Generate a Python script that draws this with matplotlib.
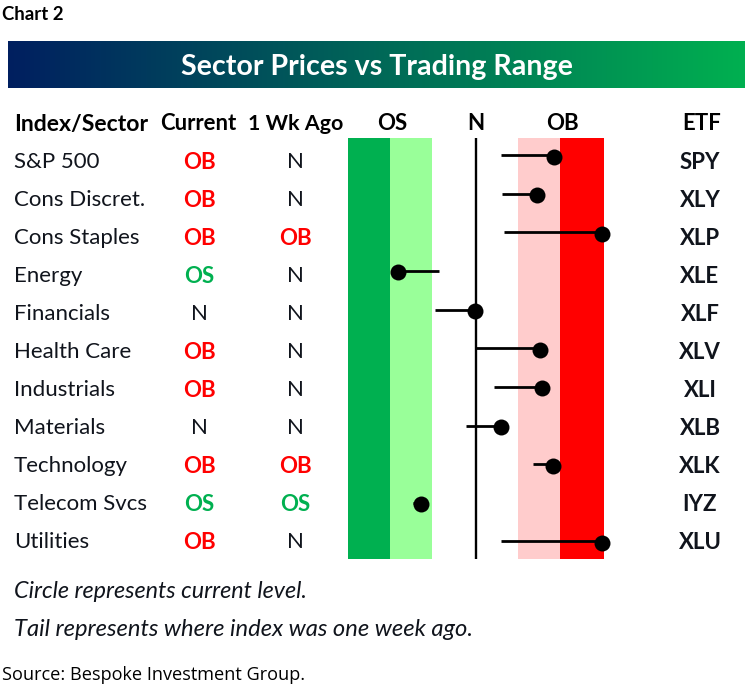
import numpy as np
import matplotlib
matplotlib.use("Agg")
import matplotlib.pyplot as plt
from matplotlib.colors import LinearSegmentedColormap

sectors = ["S&P 500", "Cons Discret.", "Cons Staples", "Energy", "Financials", "Health Care",
           "Industrials", "Materials", "Technology", "Telecom Svcs", "Utilities"]
current_status = ["OB", "OB", "OB", "OS", "N", "OB", "OB", "N", "OB", "OS", "OB"]
week_ago_status = ["N", "N", "OB", "N", "N", "N", "N", "N", "OB", "OS", "N"]
etfs = ["SPY", "XLY", "XLP", "XLE", "XLF", "XLV", "XLI", "XLB", "XLK", "IYZ", "XLU"]
current_level = [1.83, 1.43, 2.95, -1.83, -0.02, 1.50, 1.54, 0.59, 1.80, -1.29, 2.95]
week_ago_level = [0.59, 0.61, 0.66, -0.87, -0.96, 0.00, 0.42, -0.23, 1.34, -1.48, 0.59]
band_edges = [-3, -2.01, -1.03, 0.98, 1.96, 3]
band_colors = ["#00B050", "#99FF99", "#FFFFFF", "#FFCCCC", "#FF0000"]
status_colors = {"OB": "#FF0000", "OS": "#00B050", "N": "#10141C"}

W, H = 750, 688
FONT = "Lato"
INK = "#10141C"
fig = plt.figure(figsize=(W / 100, H / 100), dpi=100, facecolor="white")

page = fig.add_axes([0, 0, 1, 1])
page.set_xlim(0, W)
page.set_ylim(H, 0)
page.axis("off")

cmap = LinearSegmentedColormap.from_list("banner", ["#001F60", "#00B050"])
page.imshow(np.linspace(0, 1, 256)[None, :], cmap=cmap, extent=(8, 745, 88, 41), aspect="auto", zorder=1)
page.set_xlim(0, W)
page.set_ylim(H, 0)
page.text(377, 67, "Sector Prices vs Trading Range", color="white", fontsize=20.6, fontweight="bold",
          family=FONT, ha="center", va="center", zorder=2)

page.text(2, 14, "Chart 2", fontsize=13.4, fontweight="bold", family=FONT, color="black", va="center")
page.text(2, 675, "Source: Bespoke Investment Group.", fontsize=13.1, family="Open Sans", color="black", va="center")
page.text(14, 591, "Circle represents current level.", fontsize=16.8, style="italic", family=FONT, color=INK, va="center")
page.text(14, 629, "Tail represents where index was one week ago.", fontsize=17.1, style="italic", family=FONT, color=INK, va="center")

header_y = 124
for x, label, ha, size in [(14, "Index/Sector", "left", 16.6), (198, "Current", "center", 15.9),
                           (296, "1 Wk Ago", "center", 15.4), (392, "OS", "center", 16),
                           (476, "N", "center", 16), (562, "OB", "center", 16), (702, "ETF", "center", 16)]:
    page.text(x, header_y, label, fontsize=size, fontweight="bold", family=FONT, color="black", ha=ha, va="center")

for i, name in enumerate(sectors):
    y = 162.5 + 38 * i
    page.text(14, y, name, fontsize=16, family=FONT, color=INK, va="center")
    page.text(199, y, current_status[i], fontsize=16, fontweight="bold" if current_status[i] != "N" else "normal",
              family=FONT, color=status_colors[current_status[i]], ha="center", va="center")
    page.text(295, y, week_ago_status[i], fontsize=16, fontweight="bold" if week_ago_status[i] != "N" else "normal",
              family=FONT, color=status_colors[week_ago_status[i]], ha="center", va="center")
    page.text(700, y, etfs[i], fontsize=16, fontweight="bold", family=FONT, color=INK, ha="center", va="center")

# range panel: spans px 348..604 horizontally, 138..559 vertically
ax = fig.add_axes([348 / W, 1 - 559 / H, 256 / W, 421 / H])
ax.set_xlim(-3, 3)
row_pitch = 38.65
ax.set_ylim((559 - 156.5) / row_pitch, (138 - 156.5) / row_pitch)
ax.axis("off")
for left, right, color in zip(band_edges[:-1], band_edges[1:], band_colors):
    ax.axvspan(left, right, color=color, lw=0, zorder=1)
ax.axvline(0, color="black", lw=1.7, zorder=2)
rows = np.arange(len(sectors))
tail_rows = rows - 0.04
ax.hlines(tail_rows, week_ago_level, current_level, color="black", lw=2, zorder=3)
ax.plot(current_level, rows, "o", color="black", ms=11.5, mew=0, zorder=4, clip_on=False)

fig.savefig("out.png", dpi=100)
